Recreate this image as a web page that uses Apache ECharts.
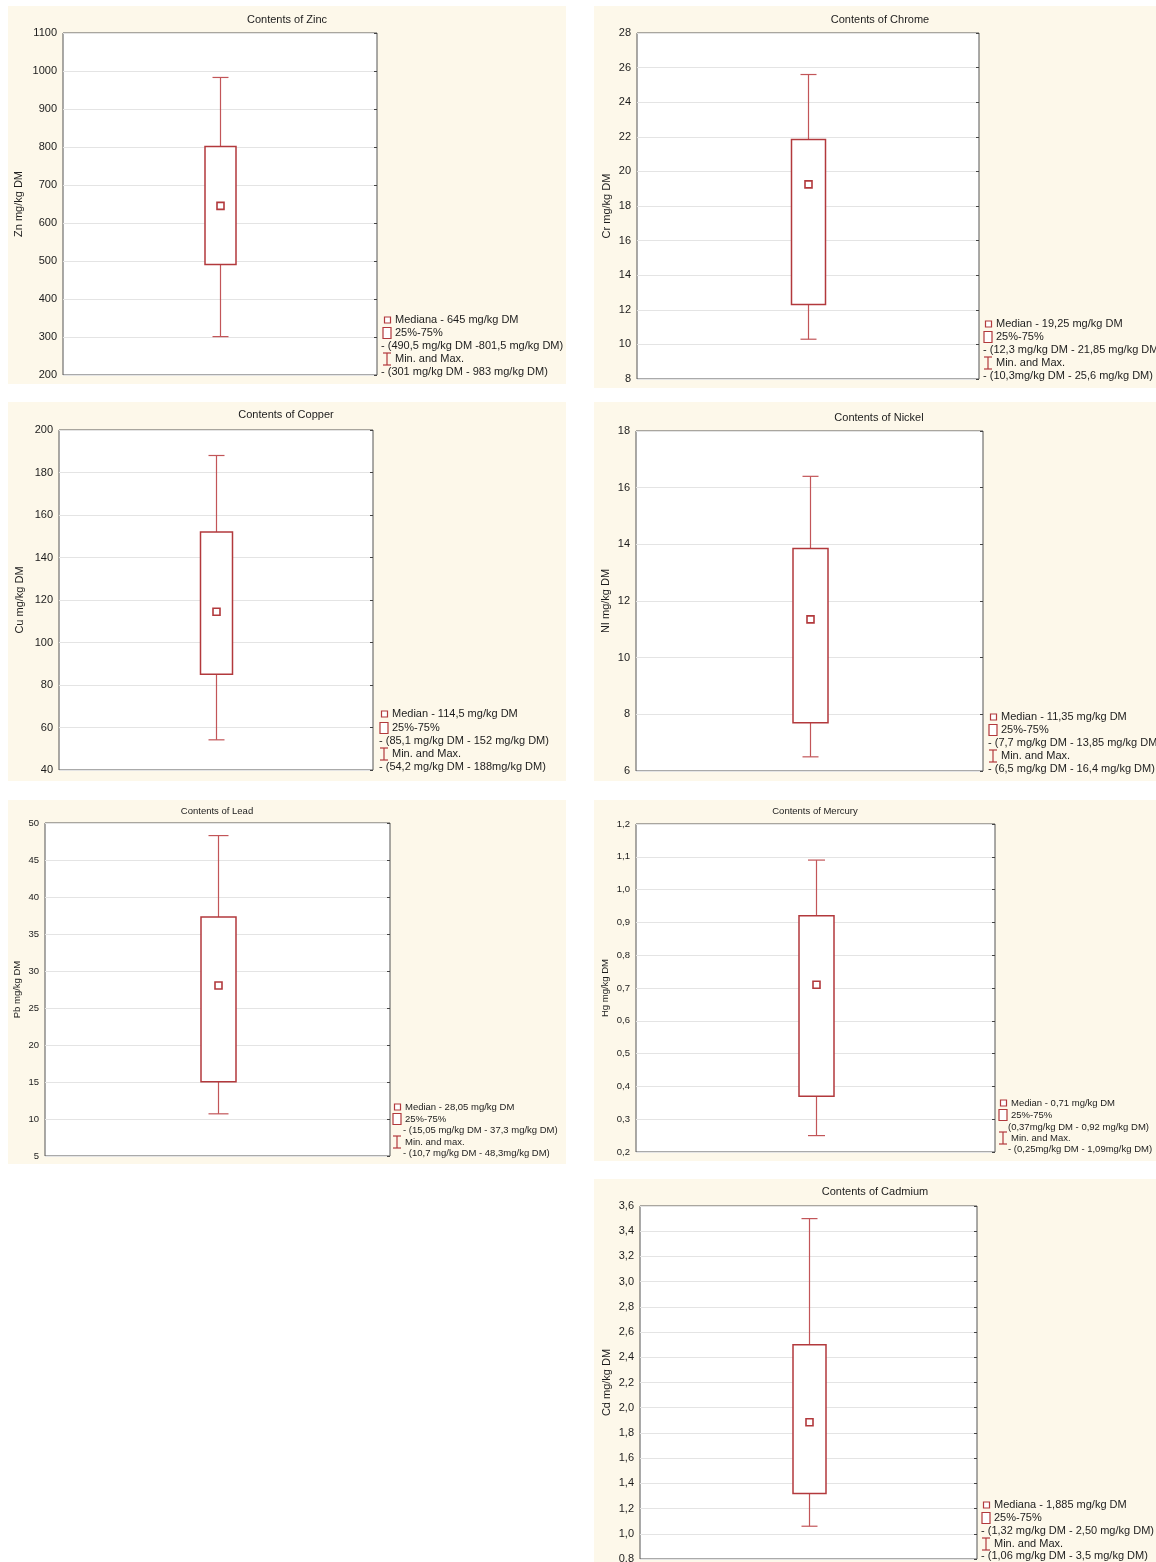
<!DOCTYPE html>
<html><head><meta charset="utf-8">
<script src="https://cdn.jsdelivr.net/npm/echarts@6/dist/echarts.min.js"></script>
<style>
html,body{margin:0;padding:0;background:#fff;}
body{width:1156px;height:1562px;position:relative;overflow:hidden;}
.p{position:absolute;background:#fdf8ea;}
</style></head><body>
<script>
// ---------- DATA ----------
const titles = ['Contents of Zinc','Contents of Chrome','Contents of Copper','Contents of Nickel','Contents of Lead','Contents of Mercury','Contents of Cadmium'];
const axisNames = ['Zn mg/kg DM','Cr mg/kg DM','Cu mg/kg DM','NI mg/kg DM','Pb mg/kg DM','Hg mg/kg DM','Cd mg/kg DM'];
const mins    = [301, 10.3, 54.2, 6.5, 10.7, 0.25, 1.06];
const q1s     = [490.5, 12.3, 85.1, 7.7, 15.05, 0.37, 1.32];
const medians = [645, 19.25, 114.5, 11.35, 28.05, 0.71, 1.885];
const q3s     = [801.5, 21.85, 152, 13.85, 37.3, 0.92, 2.50];
const maxs    = [983, 25.6, 188, 16.4, 48.3, 1.09, 3.5];
const axisMin  = [200, 8, 40, 6, 5, 0.2, 0.8];
const axisMax  = [1100, 28, 200, 18, 50, 1.2, 3.6];
const axisStep = [100, 2, 20, 2, 5, 0.1, 0.2];
const tickDecimals = [0, 0, 0, 0, 0, 1, 1];
const legendMedian = ['Mediana - 645 mg/kg DM','Median - 19,25 mg/kg DM','Median - 114,5 mg/kg DM','Median - 11,35 mg/kg DM','Median - 28,05 mg/kg DM','Median - 0,71 mg/kg DM','Mediana - 1,885 mg/kg DM'];
const legendBox = ['25%-75%','25%-75%','25%-75%','25%-75%','25%-75%','25%-75%','25%-75%'];
const legendBoxRange = ['- (490,5 mg/kg DM -801,5 mg/kg DM)','- (12,3 mg/kg DM - 21,85 mg/kg DM)','- (85,1 mg/kg DM - 152 mg/kg DM)','- (7,7 mg/kg DM - 13,85 mg/kg DM)','- (15,05 mg/kg DM - 37,3 mg/kg DM)','(0,37mg/kg DM - 0,92 mg/kg DM)','- (1,32 mg/kg DM - 2,50 mg/kg DM)'];
const legendMinMax = ['Min. and Max.','Min. and Max.','Min. and Max.','Min. and Max.','Min. and max.','Min. and Max.','Min. and Max.'];
const legendMinMaxRange = ['- (301 mg/kg DM - 983 mg/kg DM)','- (10,3mg/kg DM - 25,6 mg/kg DM)','- (54,2 mg/kg DM - 188mg/kg DM)','- (6,5 mg/kg DM - 16,4 mg/kg DM)','- (10,7 mg/kg DM - 48,3mg/kg DM)','- (0,25mg/kg DM - 1,09mg/kg DM)','- (1,06 mg/kg DM - 3,5 mg/kg DM)'];

// ---------- LAYOUT (page px) ----------
const layout = [
  {div:[8,6,558,378],   plot:[63,33,377,375],    title:[287,20],   nameX:18,  font:11,  tx:395,  dx:381,  ly:[320,333,346,359,372],   boxW:31, capW:16},
  {div:[594,6,562,382], plot:[637,33,979,379],   title:[880,20],   nameX:606, font:11,  tx:996,  dx:983,  ly:[324,337,350,363,376],   boxW:34, capW:16},
  {div:[8,402,558,379], plot:[59,430,373,770],   title:[286,415],  nameX:19,  font:11,  tx:392,  dx:379,  ly:[714,728,741,754,767],   boxW:32, capW:16},
  {div:[594,402,562,379],plot:[636,431,983,771], title:[879,418],  nameX:605, font:11,  tx:1001, dx:988,  ly:[717,730,743,756,769],   boxW:35, capW:16},
  {div:[8,800,558,364], plot:[45,823,390,1156],  title:[217,811],  nameX:17,  font:9.5, tx:405,  dx:403,  ly:[1107,1119,1130,1142,1153], boxW:35, capW:20},
  {div:[594,800,562,361],plot:[636,824,995,1152],title:[815,811],  nameX:605, font:9.5, tx:1011, dx:1008, ly:[1103,1115,1127,1138,1149], boxW:35, capW:17},
  {div:[594,1179,562,383],plot:[640,1206,977,1559],title:[875,1192],nameX:606, font:11, tx:994,  dx:981,  ly:[1505,1518,1531,1544,1556], boxW:33, capW:16}
];

const RED = '#b2393c';
const RED2 = '#c25558';
const TXT = '#1c1c1c';
const FONT = '"Liberation Sans", Arial, sans-serif';

function fmt(v, d){ return v.toFixed(d).replace('.', ','); }

titles.forEach(function(title, i){
  const L = layout[i];
  const dv = document.createElement('div');
  dv.className = 'p';
  dv.style.left = L.div[0]+'px'; dv.style.top = L.div[1]+'px';
  dv.style.width = L.div[2]+'px'; dv.style.height = L.div[3]+'px';
  document.body.appendChild(dv);
  const chart = echarts.init(dv, null, {renderer:'canvas'});
  const ox = L.div[0], oy = L.div[1];
  const gl = L.plot[0]-ox, gt = L.plot[1]-oy, gw = L.plot[2]-L.plot[0], gh = L.plot[3]-L.plot[1];
  const f = L.font;
  const boxW = L.boxW, capW = L.capW;

  const g = [];
  g.push({type:'text', x:L.title[0]-ox, y:L.title[1]-oy, style:{text:title, fill:TXT, font:f+'px '+FONT, textAlign:'center', textVerticalAlign:'middle'}});
  const ys = L.ly.map(function(y){return y-oy;});
  const tx = L.tx-ox, dx = L.dx-ox, ix = tx-12;
  const lines = [
    [legendMedian[i], tx], [legendBox[i], tx], [legendBoxRange[i], dx], [legendMinMax[i], tx], [legendMinMaxRange[i], dx]
  ];
  lines.forEach(function(ln, k){
    g.push({type:'text', x:ln[1], y:ys[k], style:{text:ln[0], fill:TXT, font:f+'px '+FONT, textAlign:'left', textVerticalAlign:'middle'}});
  });
  g.push({type:'rect', shape:{x:ix+1.5, y:ys[0]-3, width:6, height:6}, style:{fill:'#fff', stroke:RED, lineWidth:1.2}});
  g.push({type:'rect', shape:{x:ix, y:ys[1]-5.5, width:8, height:11}, style:{fill:'#fff', stroke:RED, lineWidth:1.2}});
  g.push({type:'polyline', shape:{points:[[ix+4, ys[3]-6],[ix+4, ys[3]+6]]}, style:{stroke:RED, lineWidth:1.2}});
  g.push({type:'polyline', shape:{points:[[ix, ys[3]-6],[ix+8, ys[3]-6]]}, style:{stroke:RED, lineWidth:1.2}});
  g.push({type:'polyline', shape:{points:[[ix, ys[3]+6],[ix+8, ys[3]+6]]}, style:{stroke:RED, lineWidth:1.2}});

  const d = tickDecimals[i];
  const yCommon = {type:'value', min:axisMin[i], max:axisMax[i], interval:axisStep[i]};
  const option = {
    animation:false,
    grid:{left:gl, top:gt, width:gw, height:gh, show:true, backgroundColor:'#ffffff', borderColor:'#555555', borderWidth:1, containLabel:false, outerBoundsMode:'none'},
    xAxis:{type:'category', data:[title], show:false, boundaryGap:true},
    yAxis:[
      Object.assign({}, yCommon, {
        position:'left',
        name:axisNames[i], nameLocation:'middle', nameMoveOverlap:false,
        nameGap:(L.plot[0]-L.nameX) - f*0.6,
        nameTextStyle:{fontSize:f, color:TXT, fontFamily:FONT},
        axisLine:{show:false}, axisTick:{show:false},
        axisLabel:{fontSize:f, color:TXT, fontFamily:FONT, margin:6, formatter:function(v){return fmt(v,d);}},
        splitLine:{show:true, lineStyle:{color:'#e4e4e4', width:1}}
      }),
      Object.assign({}, yCommon, {
        position:'right',
        axisLine:{show:false}, axisLabel:{show:false}, splitLine:{show:false},
        axisTick:{show:true, inside:true, length:3, lineStyle:{color:'#444'}}
      })
    ],
    graphic:g,
    series:[{
      type:'custom',
      data:[[0, mins[i], q1s[i], medians[i], q3s[i], maxs[i]]],
      encode:{x:0, y:[1,2,3,4,5]},
      renderItem:function(params, api){
        const x = api.value(0);
        const pMin = api.coord([x, api.value(1)]);
        const pQ1 = api.coord([x, api.value(2)]);
        const pMed = api.coord([x, api.value(3)]);
        const pQ3 = api.coord([x, api.value(4)]);
        const pMax = api.coord([x, api.value(5)]);
        const cx = Math.round(pMin[0]) + 0.5;
        const hw = boxW/2, hc = capW/2;
        const ws = {stroke:RED2, lineWidth:1.2, fill:null};
        return {type:'group', children:[
          {type:'line', shape:{x1:cx, y1:pMin[1], x2:cx, y2:pQ1[1]}, style:ws},
          {type:'line', shape:{x1:cx, y1:pQ3[1], x2:cx, y2:pMax[1]}, style:ws},
          {type:'line', shape:{x1:cx-hc, y1:pMin[1], x2:cx+hc, y2:pMin[1]}, style:ws},
          {type:'line', shape:{x1:cx-hc, y1:pMax[1], x2:cx+hc, y2:pMax[1]}, style:ws},
          {type:'rect', shape:{x:cx-hw, y:pQ3[1], width:boxW, height:pQ1[1]-pQ3[1]}, style:{fill:'#fff', stroke:RED, lineWidth:1.5}},
          {type:'rect', shape:{x:cx-3.5, y:pMed[1]-3.5, width:7, height:7}, style:{fill:'#fff', stroke:RED, lineWidth:1.6}}
        ]};
      }
    }]
  };
  chart.setOption(option);
});
</script>
</body></html>
